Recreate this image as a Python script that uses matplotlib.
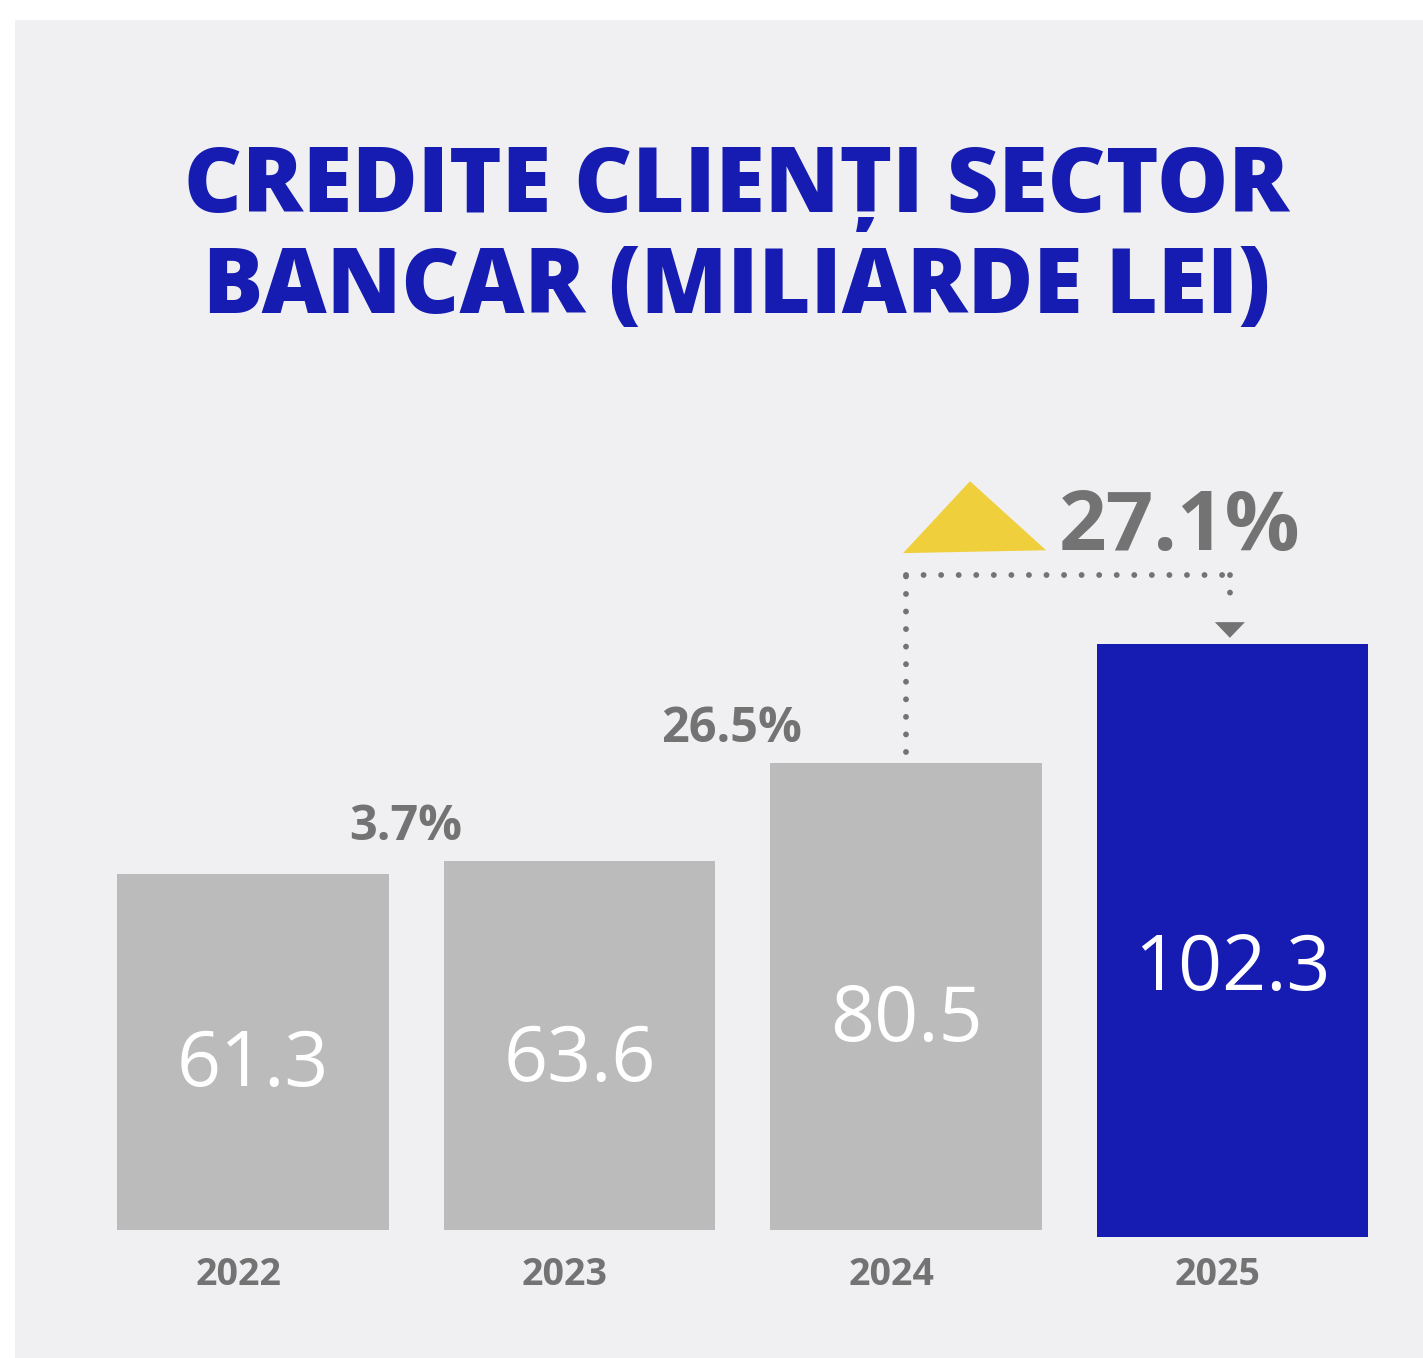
import numpy as np
import matplotlib.pyplot as plt
from matplotlib.patches import Polygon

plt.rcParams['font.family'] = ['Open Sans', 'DejaVu Sans']

# date
years = ['2022', '2023', '2024', '2025']
values = [61.3, 63.6, 80.5, 102.3]
growth = ['3.7%', '26.5%']
growth_total = '27.1%'

bg = '#f0f0f2'
grey_bar = '#bbbbbb'
blue = '#161cb1'
grey_txt = '#737373'
yellow = '#f0cf3c'

fig = plt.figure(figsize=(14.23, 13.58), dpi=100)
fig.patch.set_facecolor('white')
# panou gri
fig.patches.append(plt.Rectangle((15/1423, 0), 1 - 15/1423, 1 - 20/1358,
                                 transform=fig.transFigure, facecolor=bg,
                                 edgecolor='none', zorder=-1))

ax = fig.add_axes([89.75/1423, 128/1358, 1306/1423, 830/1358])
ax.set_facecolor('none')
ax.set_xlim(-0.5, 3.5)
ax.set_ylim(0, 830/5.8)
ax.axis('off')

x = np.arange(len(values))
colors = [grey_bar]*3 + [blue]
# bara 2025 e putin coborata in original
bars = ax.bar(x, values, width=0.833, color=colors, bottom=[0, 0, 0, -1.2])
for b in bars:
    b.set_clip_on(False)

for i, v in enumerate(values):
    ax.text(i, v*0.405, f'{v:.1f}', ha='center', va='baseline',
            color='white', fontsize=55.5)
    ax.text(i - 0.045, -9.5, years[i], ha='center', va='baseline',
            color=grey_txt, fontsize=27, fontweight='bold', clip_on=False)

for i, g in enumerate(growth):
    ax.text(i + 0.467, values[i+1] + 3.6, g, ha='center', va='baseline',
            color=grey_txt, fontsize=35, fontweight='bold')

# sageata de crestere 2024 -> 2025
ax.add_patch(Polygon([[1.991, 116.7], [2.196, 129.1], [2.429, 117.2]],
                     closed=True, facecolor=yellow, edgecolor='none'))
ax.text(2.839, 117.2, growth_total, ha='center', va='baseline',
        color=grey_txt, fontsize=60, fontweight='bold')

dots = dict(color=grey_txt, lw=4.2, dashes=(0.01, 3.0),
            dash_capstyle='round', solid_capstyle='round')
ax.plot([2.0, 2.0], [82.4, 112.9], **dots)
ax.plot([2.0, 2.992], [112.9, 112.9], **dots)
ax.plot([2.992, 2.992], [112.9, 106.9], **dots)
ax.add_patch(Polygon([[2.946, 104.8], [3.038, 104.8], [2.992, 102.1]],
                     closed=True, facecolor=grey_txt, edgecolor='none'))

fig.text(737/1423, 1 - 212/1358, 'CREDITE CLIENȚI SECTOR', ha='center',
         va='baseline', color=blue, fontsize=64.5, fontweight=800)
fig.text(737/1423, 1 - 313/1358, 'BANCAR (MILIARDE LEI)', ha='center',
         va='baseline', color=blue, fontsize=64.5, fontweight=800)

fig.savefig('out.png', dpi=100, facecolor=fig.get_facecolor())
